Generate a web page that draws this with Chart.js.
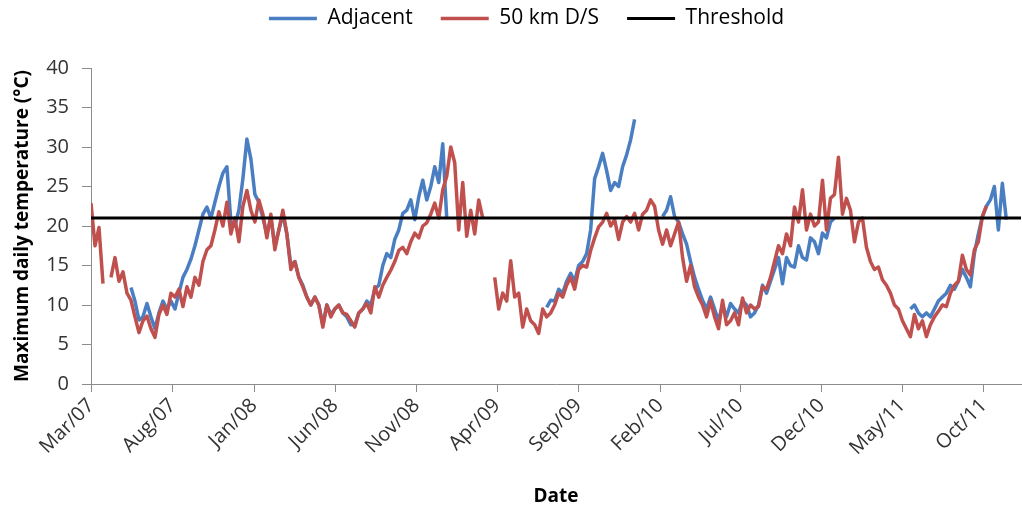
<!DOCTYPE html>
<html>
<head>
<meta charset="utf-8">
<script src="https://cdn.jsdelivr.net/npm/chart.js@4/dist/chart.umd.min.js"></script>
<style>
  html, body { margin: 0; padding: 0; background: #fff; }
  #wrap { width: 1022px; height: 512px; }
</style>
</head>
<body>
<div id="wrap"><canvas id="c" width="1022" height="512"></canvas></div>
<script>
// ---- data ----
const SERIES_NAMES = ['Adjacent', '50 km D/S', 'Threshold'];
const START_DATE = '2007-03-01';
const STEP_DAYS = 7.5;          // sampling interval of the series values
const END_DAY = 1745;           // axis end (days after START_DATE)
const THRESHOLD = 21;

const TICK_LABELS = ['Mar/07','Aug/07','Jan/08','Jun/08','Nov/08','Apr/09','Sep/09','Feb/10','Jul/10','Dec/10','May/11','Oct/11'];
const TICK_DATES  = ['2007-03-01','2007-08-01','2008-01-01','2008-06-01','2008-11-01','2009-04-01','2009-09-01','2010-02-01','2010-07-01','2010-12-01','2011-05-01','2011-10-01'];

const ADJACENT = [
  null,null,null,null,null,null,null,null,null,null,
  12.2,10.5,8.1,8.5,10.2,8.5,7.0,9.0,10.5,9.5,
  10.5,9.5,11.5,13.5,14.5,15.8,17.5,19.5,21.5,22.4,
  21.0,23.0,25.0,26.7,27.5,20.5,20.0,22.0,26.0,31.0,
  28.5,24.0,23.0,21.0,19.0,21.0,17.5,19.5,21.5,19.0,
  15.0,15.5,13.5,12.5,11.0,10.0,11.0,10.0,7.5,10.0,
  8.8,9.5,10.0,9.0,8.5,7.5,7.5,9.0,9.5,10.5,
  10.0,12.0,12.5,15.0,16.5,16.0,18.3,19.5,21.6,22.0,
  23.3,20.8,23.7,25.8,23.3,25.0,27.5,25.5,30.4,21.0,
  null,null,null,null,null,null,null,null,null,null,
  null,null,null,null,null,null,null,null,null,null,
  null,null,null,null,
  9.7,10.6,10.5,12.0,11.5,13.0,14.0,13.0,15.0,15.5,
  16.5,19.5,26.0,27.5,29.2,27.0,24.5,25.5,25.0,27.5,
  29.0,30.9,33.5,
  null,null,null,null,null,null,
  21.2,22.0,23.7,21.2,20.5,19.0,17.7,
  15.5,13.5,12.0,10.6,9.5,11.0,9.5,8.0,10.0,8.5,
  10.2,9.5,9.0,10.5,10.0,8.5,9.0,10.0,12.5,11.5,
  13.0,14.5,16.0,12.7,16.0,15.0,14.8,17.5,16.0,15.7,
  18.5,18.0,16.5,19.1,18.5,20.5,21.0,
  null,null,null,null,null,null,null,null,null,null,
  null,null,null,null,null,null,null,null,
  9.5,10.0,9.0,8.5,9.0,
  8.5,9.5,10.5,11.0,11.5,12.5,12.0,13.0,14.5,13.5,
  12.3,16.5,19.0,21.2,22.5,23.3,25.0,19.5,25.4,20.8
];

const DS50 = [
  22.9,17.5,19.8,12.7,null,13.5,16.0,13.0,14.2,11.5,
  10.6,8.5,6.5,8.0,8.6,7.0,5.9,8.8,10.0,8.8,
  11.5,11.0,12.0,9.8,12.3,11.0,13.5,12.5,15.5,17.0,
  17.5,19.5,21.8,20.0,23.0,19.0,21.0,18.0,22.5,24.5,
  22.0,20.5,23.3,21.5,18.5,21.5,17.0,19.5,22.0,19.0,
  14.5,15.5,13.5,12.3,11.0,10.0,11.0,10.0,7.2,10.0,
  8.5,9.5,10.0,9.0,8.8,8.0,7.2,9.0,9.5,10.2,
  9.0,12.3,11.0,12.5,13.5,14.4,15.5,16.9,17.3,16.5,
  18.0,19.1,18.5,20.0,20.4,21.5,22.9,21.0,24.6,26.3,
  30.0,28.0,19.5,25.5,18.7,22.0,19.0,23.3,21.0,null,
  null,13.5,9.5,11.5,10.5,15.6,11.0,11.5,7.2,9.5,
  8.0,7.5,6.4,9.5,8.5,9.0,10.0,11.5,11.0,12.5,
  13.5,12.0,14.5,15.0,14.8,16.9,18.5,19.9,20.5,21.6,
  20.0,20.8,18.3,20.5,21.2,20.5,21.6,19.5,21.5,22.0,
  23.3,22.5,19.5,17.7,19.5,17.5,19.0,20.5,16.0,13.0,
  15.0,12.3,11.0,10.0,8.5,10.5,8.5,7.0,10.6,7.5,
  8.0,9.0,7.5,10.9,9.0,10.0,9.5,9.8,12.3,12.0,
  13.5,15.5,17.5,16.5,19.0,17.5,22.4,20.5,24.6,19.5,
  21.5,20.0,20.5,25.8,19.5,23.5,24.0,28.7,21.5,23.5,
  22.0,18.0,20.5,21.0,17.3,15.5,14.5,14.8,13.2,12.5,
  11.5,10.0,9.5,8.0,7.0,6.0,8.8,7.0,8.0,6.0,
  7.5,8.5,9.2,10.0,9.8,11.5,12.5,13.0,16.3,14.5,
  13.8,17.0,18.0,21.2,22.5
];

// ---- build ----
const DAY_MS = 86400000;
const t0 = Date.parse(START_DATE);
const TICK_DAYS = TICK_DATES.map(d => Math.round((Date.parse(d) - t0) / DAY_MS));
const toXY = arr => arr.map((v, i) => ({ x: i * STEP_DAYS, y: v }));

const BLUE = '#4A7EC2';
const RED = '#C0504D';
const AXIS = '#8C8C8C';
const FONT = "'Open Sans', 'Noto Sans', sans-serif";

const legendSpacer = {
  id: 'legendSpacer',
  beforeInit(chart) {
    const lg = chart.legend;
    const fit = lg.fit;
    lg.fit = function () { fit.call(this); this.height = 68; };
  },
  afterLayout(chart) {
    const lg = chart.legend;
    lg.top -= 20;
    lg.left += 16;
    lg.right += 16;
  }
};

new Chart(document.getElementById('c'), {
  type: 'line',
  data: {
    datasets: [
      { label: SERIES_NAMES[0], data: toXY(ADJACENT), borderColor: BLUE, backgroundColor: BLUE,
        borderWidth: 3.5, pointRadius: 0, tension: 0, order: 3, borderJoinStyle: 'round' },
      { label: SERIES_NAMES[1], data: toXY(DS50), borderColor: RED, backgroundColor: RED,
        borderWidth: 3.5, pointRadius: 0, tension: 0, order: 2, borderJoinStyle: 'round' },
      { label: SERIES_NAMES[2], data: [{ x: 0, y: THRESHOLD }, { x: END_DAY, y: THRESHOLD }],
        borderColor: '#000', backgroundColor: '#000', borderWidth: 3, pointRadius: 0, order: 1 }
    ]
  },
  options: {
    responsive: false,
    animation: false,
    events: [],
    spanGaps: false,
    layout: { padding: { left: 0, right: 1, top: 0, bottom: 0 } },
    plugins: {
      legend: {
        position: 'top',
        labels: {
          usePointStyle: true,
          pointStyle: 'line',
          pointStyleWidth: 48,
          padding: 28,
          color: '#000',
          font: { family: FONT, size: 21 },
          sort: (a, b) => a.datasetIndex - b.datasetIndex
        }
      },
      tooltip: { enabled: false }
    },
    scales: {
      x: {
        type: 'linear',
        min: 0,
        max: END_DAY,
        afterBuildTicks: s => { s.ticks = TICK_DAYS.map(v => ({ value: v })); },
        afterFit: s => { s.height = 128; },
        ticks: {
          autoSkip: false,
          maxRotation: 45,
          minRotation: 45,
          padding: 2,
          color: '#333',
          font: { family: FONT, size: 20 },
          callback: (v, i) => TICK_LABELS[i]
        },
        grid: { drawOnChartArea: false, drawTicks: true, tickLength: 8, color: AXIS },
        border: { display: true, color: AXIS, width: 1 },
        title: { display: true, text: 'Date', color: '#000', padding: { top: 4, bottom: 4 },
                 font: { family: FONT, size: 19, weight: 'bold' } }
      },
      y: {
        min: 0,
        max: 40,
        afterFit: s => { s.width = 91; },
        ticks: { stepSize: 5, padding: 13, color: '#333', font: { family: FONT, size: 20 } },
        grid: { drawOnChartArea: false, drawTicks: true, tickLength: 9, color: AXIS },
        border: { display: true, color: AXIS, width: 1 },
        title: { display: true, text: 'Maximum daily temperature (°C)', color: '#000',
                 padding: { top: 11, bottom: 0 }, font: { family: FONT, size: 19, weight: 'bold' } }
      }
    }
  },
  plugins: [legendSpacer]
});
</script>
</body>
</html>
